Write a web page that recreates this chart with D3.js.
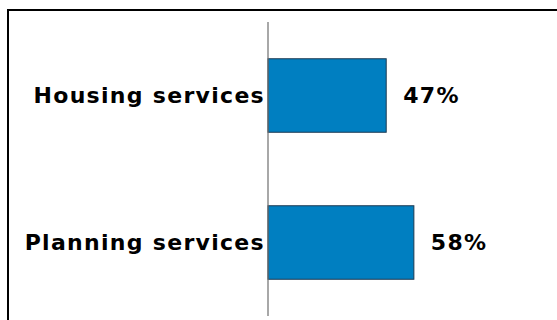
<!DOCTYPE html>
<html>
<head>
<meta charset="utf-8">
<script src="https://cdn.jsdelivr.net/npm/d3@7"></script>
<style>
  body { margin: 0; background: #fff; }
  text { font-family: 'DejaVu Sans', Verdana, sans-serif; font-weight: bold; fill: #000; }
</style>
</head>
<body>
<div id="chart"></div>
<script>
var categories = ['Housing services', 'Planning services'];
var values = [47, 58];
var value_labels = ['47%', '58%'];

// Create SVG Element
var chart_width = 557;
var chart_height = 320;
var svg = d3.select('#chart')
  .append('svg')
  .attr('width', chart_width)
  .attr('height', chart_height);

// Frame (right and bottom edges run off the picture)
svg.append('rect')
  .attr('x', 8)
  .attr('y', 10)
  .attr('width', 600)
  .attr('height', 400)
  .attr('fill', 'none')
  .attr('stroke', '#000')
  .attr('stroke-width', 2);

// Create scales
var axis_x = 268;
const yScale = d3.scaleBand()
  .domain(categories)
  .range([22, 316])
  .paddingInner(0.5)
  .paddingOuter(0.25);

const xScale = d3.scaleLinear()
  .domain([0, 100])
  .range([axis_x, axis_x + 251.5]);

// Bars
svg.selectAll('rect.bar')
  .data(values)
  .enter()
  .append('rect')
  .attr('class', 'bar')
  .attr('x', xScale(0))
  .attr('y', function (d, i) {
    return yScale(categories[i]);
  })
  .attr('width', function (d) {
    return xScale(d) - xScale(0);
  })
  .attr('height', yScale.bandwidth())
  .attr('fill', '#007fc1')
  .attr('stroke', '#1c3a52')
  .attr('stroke-width', 1);

// Vertical axis line
svg.append('line')
  .attr('x1', axis_x)
  .attr('x2', axis_x)
  .attr('y1', yScale.range()[0])
  .attr('y2', yScale.range()[1])
  .attr('stroke', '#6e6e6e')
  .attr('stroke-width', 1.2);

// Category labels
svg.selectAll('text.cat')
  .data(categories)
  .enter()
  .append('text')
  .attr('class', 'cat')
  .text(function (d) { return d; })
  .attr('x', axis_x - 3)
  .attr('y', function (d) {
    return yScale(d) + yScale.bandwidth() / 2;
  })
  .attr('dy', '0.36em')
  .attr('font-size', 22)
  .attr('letter-spacing', 1.3)
  .attr('text-anchor', 'end');

// Value labels
svg.selectAll('text.val')
  .data(values)
  .enter()
  .append('text')
  .attr('class', 'val')
  .text(function (d, i) { return value_labels[i]; })
  .attr('x', function (d) {
    return xScale(d) + 17;
  })
  .attr('y', function (d, i) {
    return yScale(categories[i]) + yScale.bandwidth() / 2;
  })
  .attr('dy', '0.36em')
  .attr('font-size', 22)
  .attr('letter-spacing', 1.3);
</script>
</body>
</html>
